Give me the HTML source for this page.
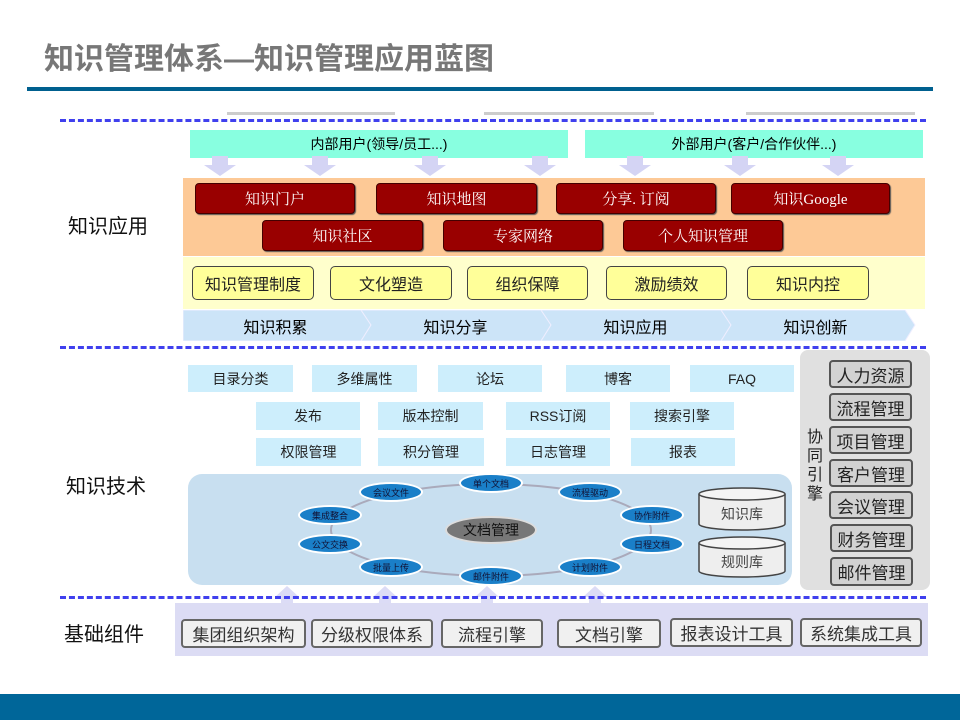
<!DOCTYPE html>
<html><head><meta charset="utf-8"><style>
*{margin:0;padding:0;box-sizing:border-box}
body{width:960px;height:720px;position:relative;background:#fff;font-family:"Liberation Sans","Noto Sans CJK SC",sans-serif;overflow:hidden}
.a{position:absolute}
.c{position:absolute;display:flex;align-items:center;justify-content:center;white-space:nowrap}
.dash{position:absolute;left:60px;width:866px;height:0;border-top:3px dashed #4040ee}
.red{background:#990000;color:#fff;border:1px solid #400;border-radius:4px;font-size:15px;font-family:"Liberation Serif","Noto Serif CJK SC",serif;box-shadow:1px 1px 1px #555}
.yel{background:#ffff99;border:1.5px solid #444;border-radius:5px;font-size:16px;color:#222}
.lb{background:#cdeefc;font-size:14px;color:#222}
.ell{background:#1a7fc8;color:#113;border:2px solid #fff;border-radius:50%;font-size:9px;width:64px;height:20px}
.gb{background:#d2d2d2;border:2px solid #555;border-radius:4px;font-size:17px;color:#222}
.bb{background:#f0f0f0;border:2px solid #666;border-radius:4px;font-size:17px;color:#333}
.lab{font-size:20px;color:#111}
</style></head><body>
<div class="a" style="left:44px;top:34px;font-size:30px;font-weight:bold;color:#777">知识管理体系—知识管理应用蓝图</div>
<div class="a" style="left:27px;top:87px;width:906px;height:4px;background:#00608f"></div>
<div class="a" style="left:227px;top:112px;width:168px;height:3px;background:#ccc"></div>
<div class="a" style="left:484px;top:112px;width:170px;height:3px;background:#ccc"></div>
<div class="a" style="left:746px;top:112px;width:169px;height:3px;background:#ccc"></div>
<div class="dash" style="top:119px"></div>

<div class="c" style="left:190px;top:130px;width:378px;height:28px;background:#88ffe0;font-size:14px">内部用户(领导/员工...)</div>
<div class="c" style="left:585px;top:130px;width:338px;height:28px;background:#88ffe0;font-size:14px">外部用户(客户/合作伙伴...)</div>
<svg class="a" style="left:0;top:156px" width="960" height="22">
<g fill="#d4d4f4">
<polygon points="212,0 228,0 228,9 236,9 220,20 204,9 212,9"/>
<polygon points="312,0 328,0 328,9 336,9 320,20 304,9 312,9"/>
<polygon points="422,0 438,0 438,9 446,9 430,20 414,9 422,9"/>
<polygon points="532,0 548,0 548,9 556,9 540,20 524,9 532,9"/>
<polygon points="627,0 643,0 643,9 651,9 635,20 619,9 627,9"/>
<polygon points="732,0 748,0 748,9 756,9 740,20 724,9 732,9"/>
<polygon points="830,0 846,0 846,9 854,9 838,20 822,9 830,9"/>
</g></svg>
<div class="a" style="left:183px;top:178px;width:742px;height:78px;background:#fdc996"></div>
<div class="c red" style="left:195px;top:183px;width:160px;height:31px">知识门户</div>
<div class="c red" style="left:376px;top:183px;width:161px;height:31px">知识地图</div>
<div class="c red" style="left:556px;top:183px;width:160px;height:31px">分享. 订阅</div>
<div class="c red" style="left:731px;top:183px;width:159px;height:31px">知识Google</div>
<div class="c red" style="left:262px;top:220px;width:161px;height:31px">知识社区</div>
<div class="c red" style="left:443px;top:220px;width:160px;height:31px">专家网络</div>
<div class="c red" style="left:623px;top:220px;width:160px;height:31px">个人知识管理</div>
<div class="a" style="left:183px;top:257px;width:742px;height:52px;background:#ffffcc"></div>
<div class="c yel" style="left:192px;top:266px;width:122px;height:34px">知识管理制度</div>
<div class="c yel" style="left:330px;top:266px;width:122px;height:34px">文化塑造</div>
<div class="c yel" style="left:467px;top:266px;width:121px;height:34px">组织保障</div>
<div class="c yel" style="left:606px;top:266px;width:121px;height:34px">激励绩效</div>
<div class="c yel" style="left:747px;top:266px;width:122px;height:34px">知识内控</div>
<svg class="a" style="left:183px;top:310px" width="740" height="31">
<g fill="#cce4f8" stroke="#eef" stroke-width="1">
<polygon points="0,0 178,0 188,15 178,31 0,31"/>
<polygon points="178,0 358,0 368,15 358,31 178,31 188,15"/>
<polygon points="358,0 538,0 548,15 538,31 358,31 368,15"/>
<polygon points="538,0 722,0 732,15 722,31 538,31 548,15"/>
</g></svg>
<div class="c" style="left:183px;top:310px;width:185px;height:31px;font-size:16px">知识积累</div>
<div class="c" style="left:363px;top:310px;width:185px;height:31px;font-size:16px">知识分享</div>
<div class="c" style="left:543px;top:310px;width:185px;height:31px;font-size:16px">知识应用</div>
<div class="c" style="left:723px;top:310px;width:185px;height:31px;font-size:16px">知识创新</div>
<div class="dash" style="top:346px"></div>
<div class="a lab" style="left:68px;top:210px">知识应用</div>
<div class="a lab" style="left:66px;top:470px">知识技术</div>
<div class="a lab" style="left:64px;top:618px">基础组件</div>

<div class="c lb" style="left:188px;top:365px;width:105px;height:27px">目录分类</div>
<div class="c lb" style="left:312px;top:365px;width:105px;height:27px">多维属性</div>
<div class="c lb" style="left:438px;top:365px;width:104px;height:27px">论坛</div>
<div class="c lb" style="left:566px;top:365px;width:104px;height:27px">博客</div>
<div class="c lb" style="left:690px;top:365px;width:104px;height:27px">FAQ</div>
<div class="c lb" style="left:256px;top:402px;width:104px;height:28px">发布</div>
<div class="c lb" style="left:378px;top:402px;width:105px;height:28px">版本控制</div>
<div class="c lb" style="left:506px;top:402px;width:104px;height:28px">RSS订阅</div>
<div class="c lb" style="left:630px;top:402px;width:104px;height:28px">搜索引擎</div>
<div class="c lb" style="left:256px;top:438px;width:105px;height:28px">权限管理</div>
<div class="c lb" style="left:378px;top:438px;width:106px;height:28px">积分管理</div>
<div class="c lb" style="left:506px;top:438px;width:104px;height:28px">日志管理</div>
<div class="c lb" style="left:631px;top:438px;width:104px;height:28px">报表</div>

<div class="a" style="left:188px;top:474px;width:604px;height:111px;background:#c8dff0;border-radius:14px"></div>
<svg class="a" style="left:0;top:0" width="960" height="720">
<ellipse cx="491" cy="530" rx="160" ry="46" fill="none" stroke="#aab" stroke-width="2"/>
<path d="M699 494 v30 a43 6 0 0 0 86 0 v-30" fill="#eee" stroke="#444" stroke-width="1.5"/>
<ellipse cx="742" cy="494" rx="43" ry="6" fill="#f4f4f4" stroke="#444" stroke-width="1.5"/>
<path d="M699 543 v28 a43 6 0 0 0 86 0 v-28" fill="#eee" stroke="#444" stroke-width="1.5"/>
<ellipse cx="742" cy="543" rx="43" ry="6" fill="#f4f4f4" stroke="#444" stroke-width="1.5"/>
<g fill="#dcdcf6">
<polygon points="287,586 299,597 293,597 293,603 281,603 281,597 275,597"/>
<polygon points="385,586 397,597 391,597 391,603 379,603 379,597 373,597"/>
<polygon points="487,586 499,597 493,597 493,603 481,603 481,597 475,597"/>
<polygon points="595,586 607,597 601,597 601,603 589,603 589,597 583,597"/>
</g>
</svg>
<div class="c" style="left:699px;top:502px;width:86px;height:24px;font-size:14px;color:#444">知识库</div>
<div class="c" style="left:699px;top:550px;width:86px;height:24px;font-size:14px;color:#444">规则库</div>
<div class="c" style="left:445px;top:516px;width:92px;height:28px;background:#777;border:2px solid #ddd;border-radius:50%;font-size:14px;color:#111">文档管理</div>
<div class="c ell" style="left:459px;top:473px">单个文档</div>
<div class="c ell" style="left:359px;top:482px">会议文件</div>
<div class="c ell" style="left:558px;top:482px">流程驱动</div>
<div class="c ell" style="left:298px;top:505px">集成整合</div>
<div class="c ell" style="left:620px;top:505px">协作附件</div>
<div class="c ell" style="left:298px;top:534px">公文交换</div>
<div class="c ell" style="left:620px;top:534px">日程文档</div>
<div class="c ell" style="left:359px;top:557px">批量上传</div>
<div class="c ell" style="left:558px;top:557px">计划附件</div>
<div class="c ell" style="left:459px;top:566px">邮件附件</div>

<div class="a" style="left:800px;top:350px;width:130px;height:240px;background:#e0e0e0;border-radius:8px"></div>
<div class="a" style="left:807px;top:428px;width:18px;font-size:16px;line-height:19px;color:#222">协同引擎</div>
<div class="c gb" style="left:829px;top:360px;width:83px;height:28px">人力资源</div>
<div class="c gb" style="left:829px;top:393px;width:83px;height:28px">流程管理</div>
<div class="c gb" style="left:829px;top:426px;width:83px;height:28px">项目管理</div>
<div class="c gb" style="left:829px;top:459px;width:84px;height:28px">客户管理</div>
<div class="c gb" style="left:829px;top:491px;width:84px;height:28px">会议管理</div>
<div class="c gb" style="left:830px;top:524px;width:83px;height:28px">财务管理</div>
<div class="c gb" style="left:830px;top:557px;width:83px;height:29px">邮件管理</div>

<div class="a" style="left:175px;top:603px;width:753px;height:53px;background:#dcdcf4"></div>
<div class="dash" style="top:596px"></div>
<div class="c bb" style="left:181px;top:619px;width:125px;height:29px">集团组织架构</div>
<div class="c bb" style="left:311px;top:619px;width:122px;height:29px">分级权限体系</div>
<div class="c bb" style="left:441px;top:619px;width:102px;height:29px">流程引擎</div>
<div class="c bb" style="left:557px;top:619px;width:104px;height:29px">文档引擎</div>
<div class="c bb" style="left:670px;top:618px;width:123px;height:29px">报表设计工具</div>
<div class="c bb" style="left:800px;top:618px;width:122px;height:29px">系统集成工具</div>

<div class="a" style="left:0;top:694px;width:960px;height:26px;background:#006699"></div>
</body></html>
